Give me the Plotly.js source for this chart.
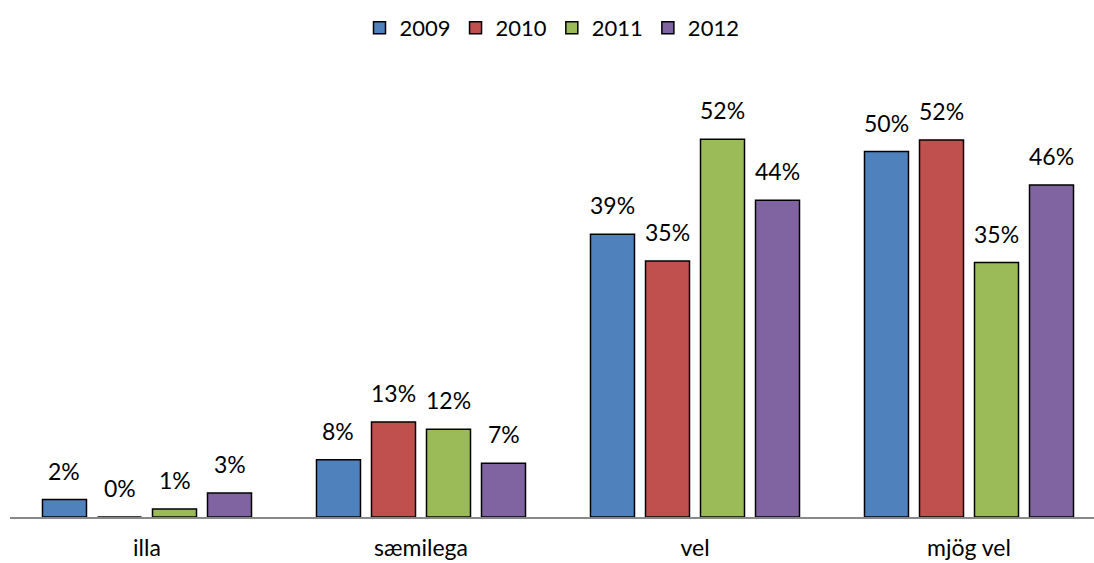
<!DOCTYPE html>
<html>
<head>
<meta charset="utf-8">
<script src="https://cdn.plot.ly/plotly-3.0.1.min.js"></script>
<style>html,body{margin:0;padding:0;background:#fff;}#chart{width:1094px;height:563px;}</style>
</head>
<body>
<div id="chart"></div>
<script>
const categories = ["illa", "sæmilega", "vel", "mjög vel"];
const years = ["2009", "2010", "2011", "2012"];
const v2009 = [2.4, 7.9, 39.0, 50.4];
const v2010 = [0, 13.1, 35.3, 52.0];
const v2011 = [1.1, 12.1, 52.1, 35.1];
const v2012 = [3.3, 7.4, 43.7, 45.8];
const colors = ["#4F81BD", "#C0504D", "#9BBB59", "#8064A2"];

const series = [v2009, v2010, v2011, v2012];
const FONT = "Lato, 'Open Sans', sans-serif";
const bargap = 0.197;

const traces = series.map((vals, j) => ({
  type: "bar",
  name: years[j],
  x: categories,
  y: vals,
  marker: {color: colors[j], line: {color: "#000", width: 1.5}},
  hoverinfo: "skip"
}));

const annotations = [];
const slot = (1 - bargap) / series.length;
series.forEach((vals, j) => {
  vals.forEach((v, i) => {
    annotations.push({
      x: i + (j - (series.length - 1) / 2) * slot,
      y: v,
      xref: "x", yref: "y",
      text: Math.round(v) + "%",
      showarrow: false,
      yanchor: "bottom",
      yshift: 13,
      font: {family: FONT, size: 23, color: "#000"}
    });
  });
});

const layout = {
  width: 1094, height: 563,
  margin: {l: 10, r: 0, t: 82, b: 46, autoexpand: false},
  paper_bgcolor: "#fff", plot_bgcolor: "#fff",
  barmode: "group",
  bargap: bargap,
  bargroupgap: 0.2,
  showlegend: true,
  legend: {orientation: "h", x: 0.5, xanchor: "center", xref: "paper",
           yref: "container", y: 1 - 28 / 563, yanchor: "middle",
           font: {family: FONT, size: 22, color: "#000"}, itemwidth: 30, traceorder: "normal"},
  xaxis: {type: "category", range: [-0.5, -0.5 + 1084 / 274], showline: true, linecolor: "#888",
          linewidth: 2, ticks: "", showgrid: false, zeroline: false, fixedrange: true,
          ticklabelstandoff: 9,
          tickfont: {family: FONT, size: 23, color: "#000"}},
  yaxis: {range: [0, 60], showline: false, showgrid: false, zeroline: false, showticklabels: false, ticks: ""},
  annotations: annotations,
  font: {family: FONT}
};

Plotly.newPlot("chart", traces, layout, {displayModeBar: false, staticPlot: true});
</script>
</body>
</html>
